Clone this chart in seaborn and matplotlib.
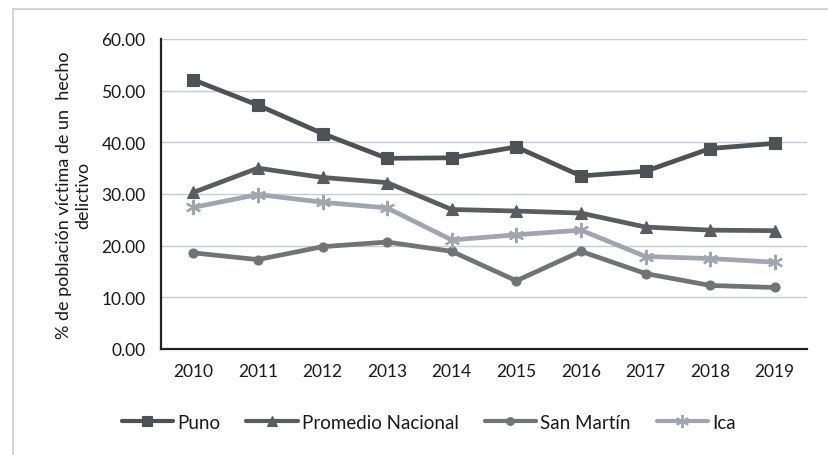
import matplotlib
matplotlib.use("Agg")
import matplotlib.pyplot as plt
from matplotlib.lines import Line2D
import seaborn as sns
import pandas as pd

years = ["2010", "2011", "2012", "2013", "2014", "2015", "2016", "2017", "2018", "2019"]
puno = [52.1, 47.2, 41.7, 36.9, 37.0, 39.1, 33.5, 34.4, 38.8, 39.8]
promedio_nacional = [30.3, 35.0, 33.2, 32.2, 27.0, 26.7, 26.3, 23.6, 23.0, 22.9]
san_martin = [18.6, 17.3, 19.8, 20.7, 18.9, 13.2, 18.9, 14.6, 12.3, 11.9]
ica = [27.4, 29.9, 28.4, 27.3, 21.1, 22.1, 23.0, 17.9, 17.5, 16.8]

series_names = ["Puno", "Promedio Nacional", "San Martín", "Ica"]
series_values = [puno, promedio_nacional, san_martin, ica]
yticks = [0, 10, 20, 30, 40, 50, 60]

df = pd.DataFrame(
    [(y, name, v) for name, vals in zip(series_names, series_values) for y, v in zip(years, vals)],
    columns=["year", "serie", "valor"],
)
df["pos"] = df["year"].map({y: i for i, y in enumerate(years)})

sns.set_theme(style="white")
plt.rcParams["font.family"] = ["Lato", "DejaVu Sans"]

palette = {
    "Puno": "#4d5257",
    "Promedio Nacional": "#595d62",
    "San Martín": "#707377",
    "Ica": "#a0a5b2",
}
markers = {
    "Puno": "s",
    "Promedio Nacional": "^",
    "San Martín": "o",
    "Ica": (6, 2, 0),
}
msizes = {"Puno": 8.5, "Promedio Nacional": 8.5, "San Martín": 6.5, "Ica": 11}

fig = plt.figure(figsize=(8.29, 4.56), dpi=100)
ax = fig.add_axes([0.1942, 0.2325, 0.7793, 0.6798])

for name in series_names:
    sub = df[df["serie"] == name]
    sns.lineplot(
        data=sub, x="pos", y="valor", ax=ax,
        color=palette[name], linewidth=3.4,
        marker=markers[name], markersize=msizes[name],
        markeredgecolor=palette[name], markeredgewidth=1.6 if name == "Ica" else 0.8,
        label=name, legend=False,
    )

ax.set_xlim(-0.5, 9.5)
ax.set_ylim(0, 60)
ax.set_xticks(range(len(years)))
ax.set_xticklabels(years)
ax.set_yticks(yticks)
ax.set_yticklabels([f"{v:.2f}" for v in yticks])
ax.tick_params(axis="both", length=0, labelsize=12.5, colors="#1a1a1a")
ax.tick_params(axis="x", pad=10)
ax.tick_params(axis="y", pad=11)
ax.set_xlabel("")
ax.set_ylabel("% de población víctima de un  hecho\ndelictivo", fontsize=13,
              color="#1a1a1a", labelpad=7, linespacing=1.3)

ax.grid(axis="y", color="#c6cbd9", linewidth=1.0)
ax.grid(axis="x", visible=False)
for side in ["top", "right"]:
    ax.spines[side].set_visible(False)
for side in ["left", "bottom"]:
    ax.spines[side].set_color("#222222")
    ax.spines[side].set_linewidth(1.6)
ax.set_axisbelow(True)

handles = [
    Line2D([0], [0], color=palette[n], linewidth=3.0, marker=markers[n],
           markersize=msizes[n] * 0.85, markeredgecolor=palette[n],
           markeredgewidth=1.4 if n == "Ica" else 0.8)
    for n in series_names
]
fig.legend(handles, series_names, loc="center", bbox_to_anchor=(0.517, 0.072),
           ncol=4, frameon=False, fontsize=13.5, handlelength=2.75,
           handletextpad=0.2, columnspacing=1.4, labelcolor="#1a1a1a")

# light frame around the chart area
fig.add_artist(Line2D([0.016, 0.016], [0.0, 0.978], transform=fig.transFigure,
                      color="#c9ccd3", linewidth=1.2))
fig.add_artist(Line2D([0.016, 1.0], [0.978, 0.978], transform=fig.transFigure,
                      color="#c9ccd3", linewidth=1.2))

fig.savefig("out.png", dpi=100, facecolor="white")
